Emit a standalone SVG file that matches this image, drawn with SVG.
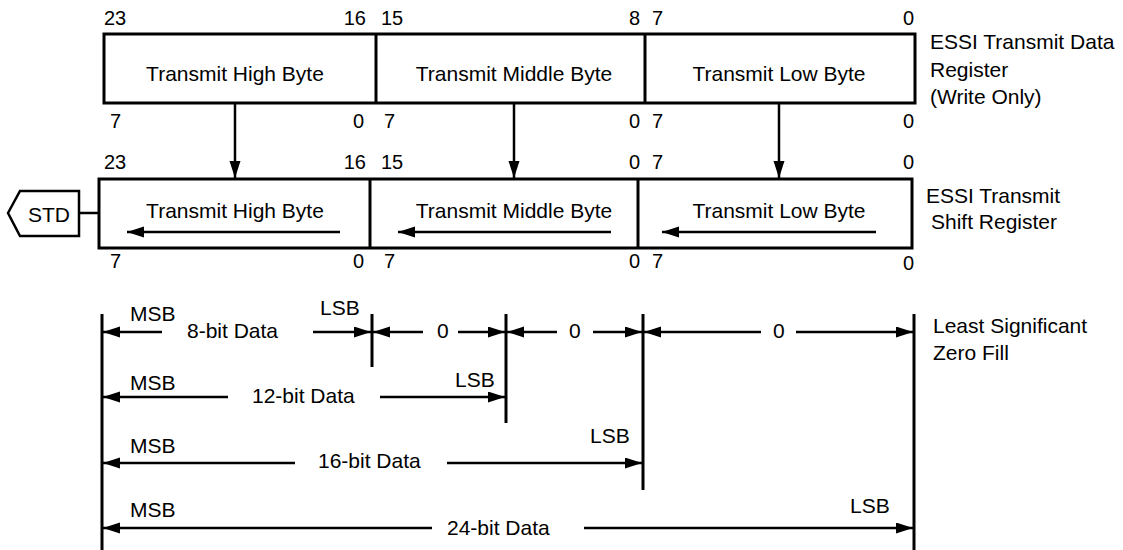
<svg xmlns="http://www.w3.org/2000/svg" width="1123" height="550" viewBox="0 0 1123 550">
<style>
text{font-family:"Liberation Sans",Arial,sans-serif;fill:#000}
.lb{font-size:21px}
.num{font-size:20px}
.mid{text-anchor:middle}
.end{text-anchor:end}
.box{fill:#fff;stroke:#000;stroke-width:3}
.ln{stroke:#000;stroke-width:2.5;fill:none}
.vl{stroke:#000;stroke-width:3;fill:none}
.arr{stroke:#000;stroke-width:2.5;fill:none;marker-end:url(#ah)}
</style>
<defs>
<marker id="ah" markerUnits="userSpaceOnUse" markerWidth="18" markerHeight="12" refX="17" refY="5.5" orient="auto">
<path d="M0,0 L17,5.5 L0,11 z" fill="#000"/>
</marker>
</defs>
<rect width="1123" height="550" fill="#fff"/>

<g id="tdr">
<rect class="box" x="104" y="34" width="811" height="69"/>
<line class="vl" x1="376" y1="34" x2="376" y2="103"/>
<line class="vl" x1="645" y1="34" x2="645" y2="103"/>
<text class="lb mid" x="235" y="81">Transmit High Byte</text>
<text class="lb mid" x="514" y="81">Transmit Middle Byte</text>
<text class="lb mid" x="779" y="81">Transmit Low Byte</text>
<text class="num" x="104" y="25">23</text>
<text class="num end" x="366" y="25">16</text>
<text class="num" x="381" y="25">15</text>
<text class="num end" x="640" y="25">8</text>
<text class="num" x="652" y="25">7</text>
<text class="num end" x="914" y="25">0</text>
<text class="num" x="110" y="128">7</text>
<text class="num end" x="364" y="128">0</text>
<text class="num" x="384" y="128">7</text>
<text class="num end" x="640" y="128">0</text>
<text class="num" x="652" y="128">7</text>
<text class="num end" x="914" y="128">0</text>
<text class="lb" x="930" y="49">ESSI Transmit Data</text>
<text class="lb" x="930" y="77">Register</text>
<text class="lb" x="930" y="104">(Write Only)</text>
</g>

<g id="tsr">
<rect class="box" x="99" y="179" width="813" height="69"/>
<line class="vl" x1="370" y1="179" x2="370" y2="248"/>
<line class="vl" x1="638" y1="179" x2="638" y2="248"/>
<text class="lb mid" x="235" y="218">Transmit High Byte</text>
<text class="lb mid" x="514" y="218">Transmit Middle Byte</text>
<text class="lb mid" x="779" y="218">Transmit Low Byte</text>
<text class="num" x="104" y="169">23</text>
<text class="num end" x="366" y="169">16</text>
<text class="num" x="381" y="169">15</text>
<text class="num end" x="640" y="169">0</text>
<text class="num" x="652" y="169">7</text>
<text class="num end" x="914" y="169">0</text>
<text class="num" x="110" y="268">7</text>
<text class="num end" x="364" y="268">0</text>
<text class="num" x="384" y="268">7</text>
<text class="num end" x="640" y="268">0</text>
<text class="num" x="652" y="268">7</text>
<text class="num end" x="914" y="270">0</text>
<text class="lb mid" x="993" y="203">ESSI Transmit</text>
<text class="lb mid" x="994" y="229">Shift Register</text>
</g>

<g id="std">
<polygon points="8,213 20,191 79,191 79,236 20,236" fill="#fff" stroke="#000" stroke-width="2.5"/>
<text class="lb mid" x="49" y="222">STD</text>
</g>

<g id="fill-labels">
<text class="lb" x="933" y="333">Least Significant</text>
<text class="lb" x="933" y="360">Zero Fill</text>
<text class="lb" x="130" y="321">MSB</text>
<text class="lb" x="187" y="338">8-bit Data</text>
<text class="lb" x="320" y="315">LSB</text>
<text class="lb" x="437" y="338">0</text>
<text class="lb" x="569" y="338">0</text>
<text class="lb" x="773" y="338">0</text>
<text class="lb" x="130" y="390">MSB</text>
<text class="lb" x="252" y="403">12-bit Data</text>
<text class="lb" x="455" y="387">LSB</text>
<text class="lb" x="130" y="453">MSB</text>
<text class="lb" x="318" y="468">16-bit Data</text>
<text class="lb" x="590" y="443">LSB</text>
<text class="lb" x="130" y="517">MSB</text>
<text class="lb" x="447" y="535">24-bit Data</text>
<text class="lb" x="850" y="513">LSB</text>
</g>

<g id="connectors">
<line class="ln" x1="79" y1="213" x2="99" y2="213"/>
<line class="arr" x1="235" y1="103" x2="235" y2="178"/>
<line class="arr" x1="514" y1="103" x2="514" y2="178"/>
<line class="arr" x1="779" y1="103" x2="779" y2="178"/>
<line class="arr" x1="340" y1="232" x2="127" y2="232"/>
<line class="arr" x1="611" y1="232" x2="398" y2="232"/>
<line class="arr" x1="876" y1="232" x2="662" y2="232"/>

<line class="vl" x1="102" y1="314" x2="102" y2="550"/>
<line class="vl" x1="372" y1="314" x2="372" y2="367"/>
<line class="vl" x1="506" y1="314" x2="506" y2="423"/>
<line class="vl" x1="643" y1="314" x2="643" y2="490"/>
<line class="vl" x1="914" y1="314" x2="914" y2="550"/>

<line class="arr" x1="162" y1="332" x2="103" y2="332"/>
<line class="arr" x1="313" y1="332" x2="371" y2="332"/>
<line class="arr" x1="423" y1="332" x2="373" y2="332"/>
<line class="arr" x1="458" y1="332" x2="505" y2="332"/>
<line class="arr" x1="557" y1="332" x2="507" y2="332"/>
<line class="arr" x1="593" y1="332" x2="642" y2="332"/>
<line class="arr" x1="761" y1="332" x2="644" y2="332"/>
<line class="arr" x1="796" y1="332" x2="913" y2="332"/>

<line class="arr" x1="228" y1="397" x2="103" y2="397"/>
<line class="arr" x1="380" y1="397" x2="505" y2="397"/>

<line class="arr" x1="295" y1="463" x2="103" y2="463"/>
<line class="arr" x1="447" y1="463" x2="642" y2="463"/>

<line class="arr" x1="432" y1="528" x2="103" y2="528"/>
<line class="arr" x1="584" y1="528" x2="913" y2="528"/>
</g>
</svg>
